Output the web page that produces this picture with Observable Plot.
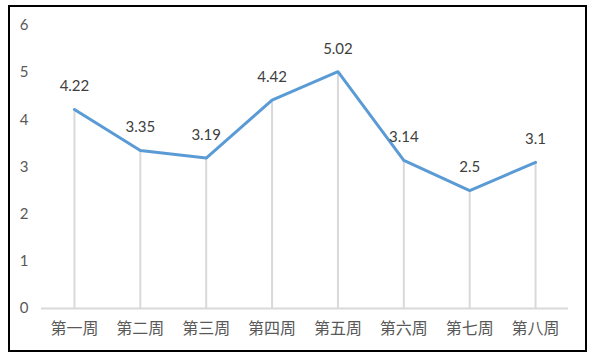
<!DOCTYPE html>
<html><head><meta charset="utf-8">
<script src="https://cdn.jsdelivr.net/npm/d3@7"></script>
<script src="https://cdn.jsdelivr.net/npm/@observablehq/plot@0.6"></script>
<style>
body{margin:0;background:#fff;}
#wrap{position:relative;width:590px;height:355px;}
#frame{position:absolute;left:8px;top:5px;width:575px;height:343px;border:2.5px solid #000;pointer-events:none;}
</style></head>
<body><div id="wrap"><div id="frame"></div></div>
<script>
const weeks = ["第一周","第二周","第三周","第四周","第五周","第六周","第七周","第八周"];
const values = [4.22,3.35,3.19,4.42,5.02,3.14,2.5,3.1];
const yTicks = [0,1,2,3,4,5,6];
const data = weeks.map((w,i)=>({week:w,value:values[i]}));

const chart = Plot.plot({
  width:590, height:355,
  marginLeft:41, marginRight:22, marginTop:25, marginBottom:47,
  style:{fontFamily:"Lato, 'Noto Sans CJK SC', sans-serif", fontSize:"15px", background:"transparent"},
  x:{type:"point", domain:weeks, padding:0.5, round:false, label:null, tickSize:0, tickPadding:14},
  y:{domain:[0,6], ticks:yTicks, label:null, tickSize:0, tickPadding:13, tickFormat:d=>String(d)},
  marks:[
    Plot.ruleX(data,{x:"week", y1:0, y2:"value", stroke:"#d9d9d9", strokeWidth:2}),
    Plot.ruleY([0],{stroke:"#d9d9d9", strokeWidth:2}),
    Plot.line(data,{x:"week", y:"value", stroke:"#5b9bd5", strokeWidth:3}),
    Plot.text(data,{x:"week", y:"value", text:d=>String(d.value), dy:-23, fill:"#404040", fontSize:15})
  ]
});
chart.querySelectorAll("[aria-label='y-axis tick label'] text").forEach(t=>t.setAttribute("fill","#595959"));
chart.querySelectorAll("[aria-label='x-axis tick label'] text").forEach(t=>{t.setAttribute("fill","#595959");t.setAttribute("font-size","16px");});
document.getElementById("wrap").prepend(chart);
</script></body></html>
